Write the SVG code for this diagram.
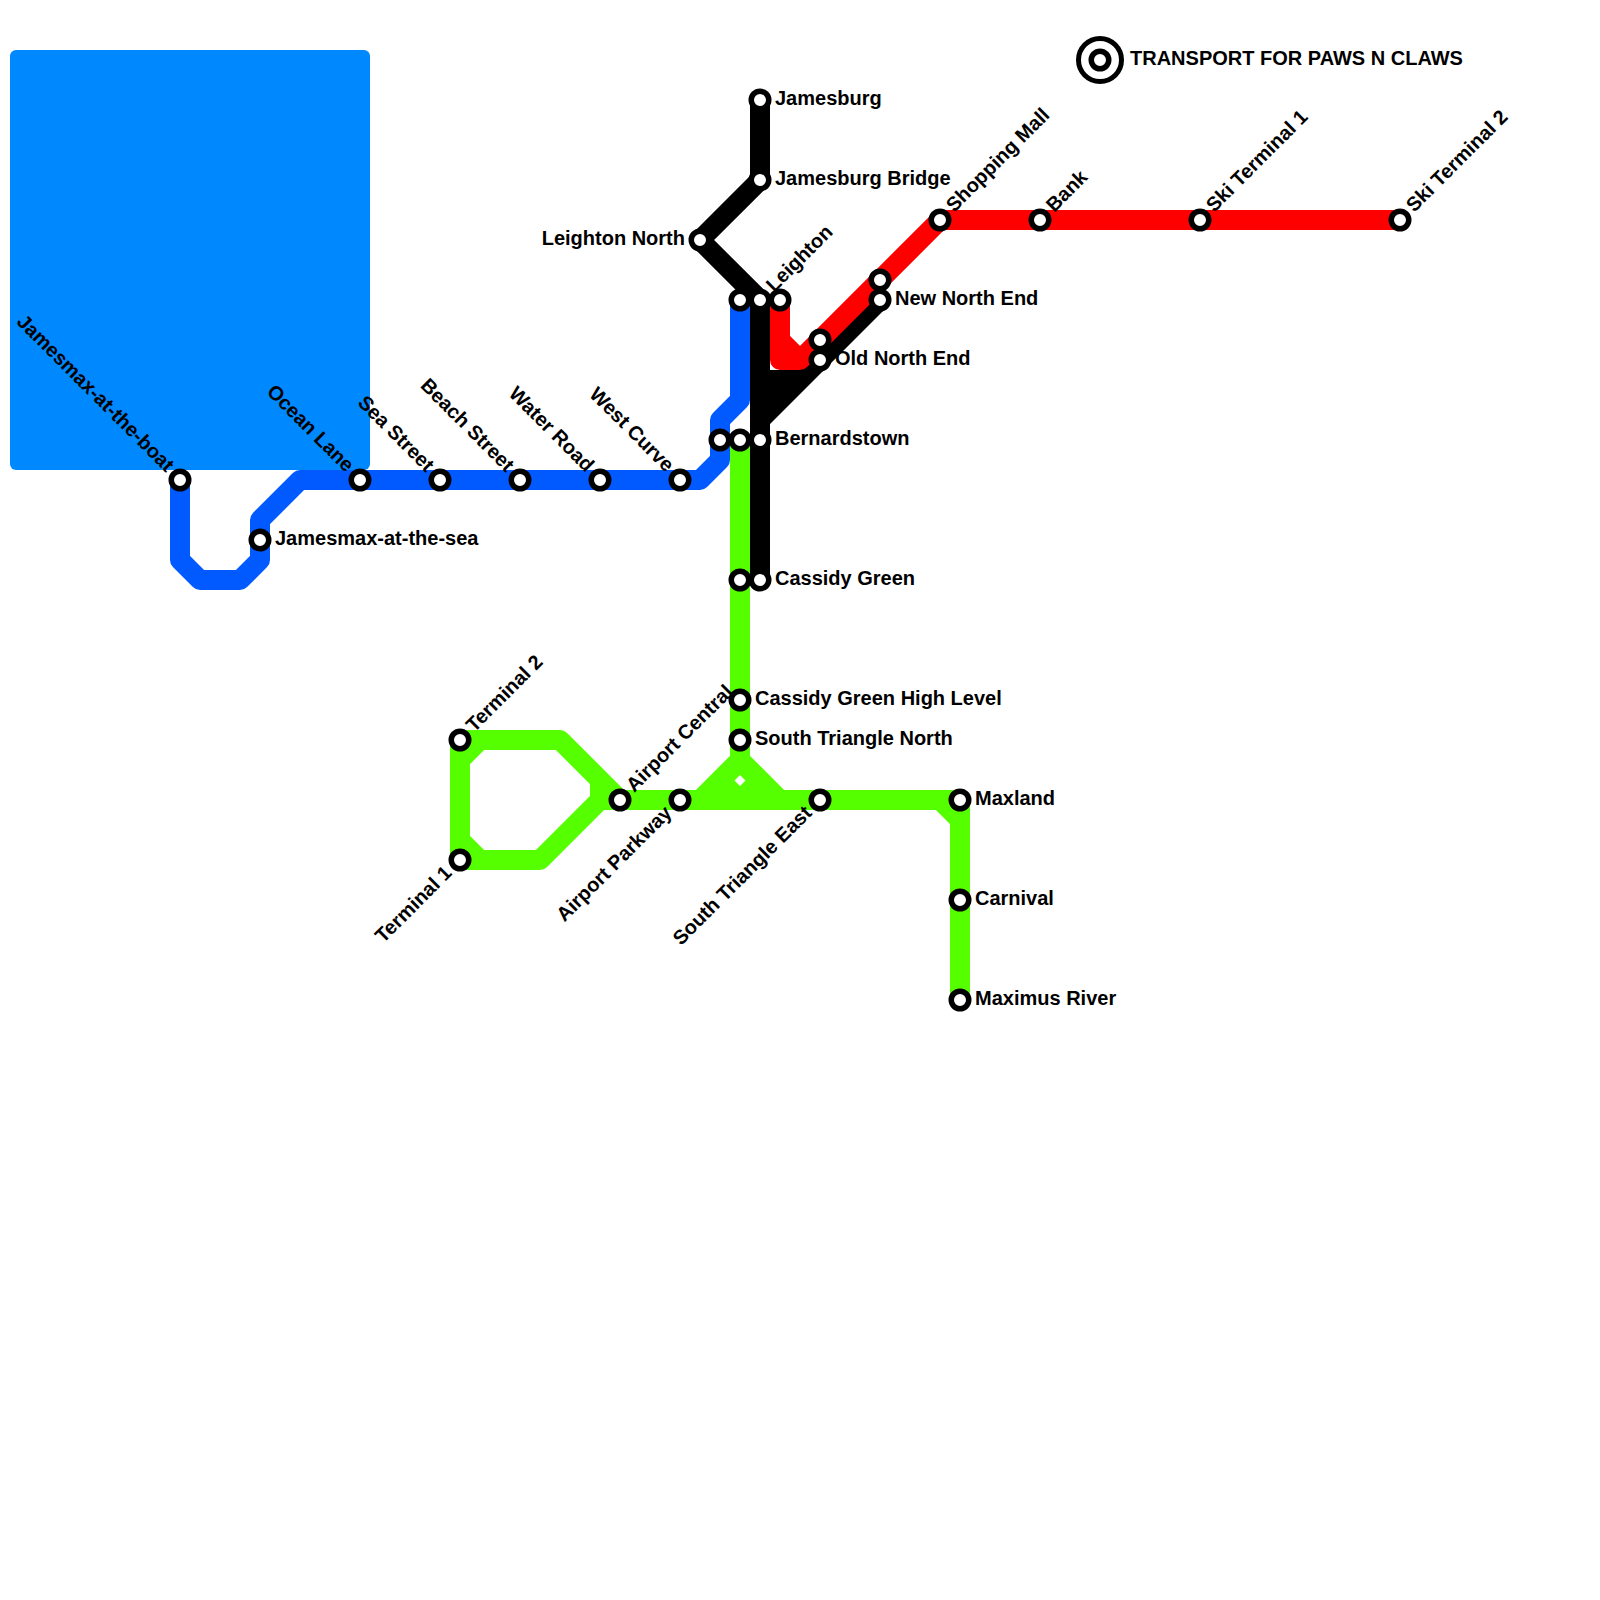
<svg xmlns="http://www.w3.org/2000/svg" width="1600" height="1600" viewBox="0 0 1600 1600">
<style>
.l{fill:none;stroke-width:20;stroke-linejoin:round;stroke-linecap:butt}
.b{stroke:#005aff}.g{stroke:#55ff00}.r{stroke:#ff0000}.k{stroke:#000}
.s{fill:#fff;stroke:#000;stroke-width:5.5}
text{font-family:"Liberation Sans",Arial,sans-serif;font-weight:bold;font-size:20px;fill:#000}
.e{text-anchor:end}
</style>
<defs><circle id="st" class="s" r="8.75"/></defs>
<rect id="water" x="10" y="50" width="360" height="420" rx="6" fill="#0088ff"/>
<g id="connectors">
<path class="l b" d="M180,480V560L200,580H240L260,560V520L300,480H700L720,460V420L740,400V300"/>
<path class="l g" d="M740,440V760M600,800H960V1000M940,800L960,820M700,800L740,760L780,800M460,740H560L620,800M600,780V800M460,860H540L600,800M460,740V860M460,760L480,740M460,840L480,860"/>
<path fill="#55ff00" fill-rule="evenodd" d="M706,790L740,756L774,790ZM740,775L745.500,780.500L740,786L734.500,780.500Z"/>
<path class="l k" d="M760,100V180L700,240L760,300V580"/>
<path class="l k" d="M880,300L760,420"/>
<path fill="#000" d="M755,370H820L770,420H755Z"/>
<path class="l r" d="M780,300V360H800L940,220H1400M780,340L800,360"/>
</g>
<g id="n-boat"><use href="#st" x="180" y="480"/><text transform="translate(180,480) rotate(45)" x="-15" y="5" class="e">Jamesmax-at-the-boat</text></g>
<g id="n-sea"><use href="#st" x="260" y="540"/><text x="275" y="545">Jamesmax-at-the-sea</text></g>
<g id="n-ocean"><use href="#st" x="360" y="480"/><text transform="translate(360,480) rotate(45)" x="-15" y="5" class="e">Ocean Lane</text></g>
<g id="n-seast"><use href="#st" x="440" y="480"/><text transform="translate(440,480) rotate(45)" x="-15" y="5" class="e">Sea Street</text></g>
<g id="n-beach"><use href="#st" x="520" y="480"/><text transform="translate(520,480) rotate(45)" x="-15" y="5" class="e">Beach Street</text></g>
<g id="n-water"><use href="#st" x="600" y="480"/><text transform="translate(600,480) rotate(45)" x="-15" y="5" class="e">Water Road</text></g>
<g id="n-west"><use href="#st" x="680" y="480"/><text transform="translate(680,480) rotate(45)" x="-15" y="5" class="e">West Curve</text></g>
<g id="n-j1"><use href="#st" x="760" y="100"/><text x="775" y="105">Jamesburg</text></g>
<g id="n-j2"><use href="#st" x="760" y="180"/><text x="775" y="185">Jamesburg Bridge</text></g>
<g id="n-ln"><use href="#st" x="700" y="240"/><text x="685" y="245" class="e">Leighton North</text></g>
<g id="n-leighton"><use href="#st" x="740" y="300"/><use href="#st" x="760" y="300"/><use href="#st" x="780" y="300"/><text transform="translate(760,300) rotate(-45)" x="15" y="5">Leighton</text></g>
<g id="n-nne"><use href="#st" x="880" y="280"/><use href="#st" x="880" y="300"/><text x="895" y="305">New North End</text></g>
<g id="n-one"><use href="#st" x="820" y="340"/><use href="#st" x="820" y="360"/><text x="835" y="365">Old North End</text></g>
<g id="n-bern"><use href="#st" x="720" y="440"/><use href="#st" x="740" y="440"/><use href="#st" x="760" y="440"/><text x="775" y="445">Bernardstown</text></g>
<g id="n-cg"><use href="#st" x="740" y="580"/><use href="#st" x="760" y="580"/><text x="775" y="585">Cassidy Green</text></g>
<g id="n-cghl"><use href="#st" x="740" y="700"/><text x="755" y="705">Cassidy Green High Level</text></g>
<g id="n-stn"><use href="#st" x="740" y="740"/><text x="755" y="745">South Triangle North</text></g>
<g id="n-t2"><use href="#st" x="460" y="740"/><text transform="translate(460,740) rotate(-45)" x="15" y="5">Terminal 2</text></g>
<g id="n-t1"><use href="#st" x="460" y="860"/><text transform="translate(460,860) rotate(-45)" x="-15" y="5" class="e">Terminal 1</text></g>
<g id="n-ac"><use href="#st" x="620" y="800"/><text transform="translate(620,800) rotate(-45)" x="15" y="5">Airport Central</text></g>
<g id="n-ap"><use href="#st" x="680" y="800"/><text transform="translate(680,800) rotate(-45)" x="-15" y="5" class="e">Airport Parkway</text></g>
<g id="n-ste"><use href="#st" x="820" y="800"/><text transform="translate(820,800) rotate(-45)" x="-15" y="5" class="e">South Triangle East</text></g>
<g id="n-max"><use href="#st" x="960" y="800"/><text x="975" y="805">Maxland</text></g>
<g id="n-car"><use href="#st" x="960" y="900"/><text x="975" y="905">Carnival</text></g>
<g id="n-mr"><use href="#st" x="960" y="1000"/><text x="975" y="1005">Maximus River</text></g>
<g id="n-sm"><use href="#st" x="940" y="220"/><text transform="translate(940,220) rotate(-45)" x="15" y="5">Shopping Mall</text></g>
<g id="n-bank"><use href="#st" x="1040" y="220"/><text transform="translate(1040,220) rotate(-45)" x="15" y="5">Bank</text></g>
<g id="n-s1"><use href="#st" x="1200" y="220"/><text transform="translate(1200,220) rotate(-45)" x="15" y="5">Ski Terminal 1</text></g>
<g id="n-s2"><use href="#st" x="1400" y="220"/><text transform="translate(1400,220) rotate(-45)" x="15" y="5">Ski Terminal 2</text></g>
<g id="logo"><circle cx="1100" cy="60" r="21.500" fill="#fff" stroke="#000" stroke-width="5"/><use href="#st" x="1100" y="60"/><text x="1130" y="65">TRANSPORT FOR PAWS N CLAWS</text></g>
</svg>
